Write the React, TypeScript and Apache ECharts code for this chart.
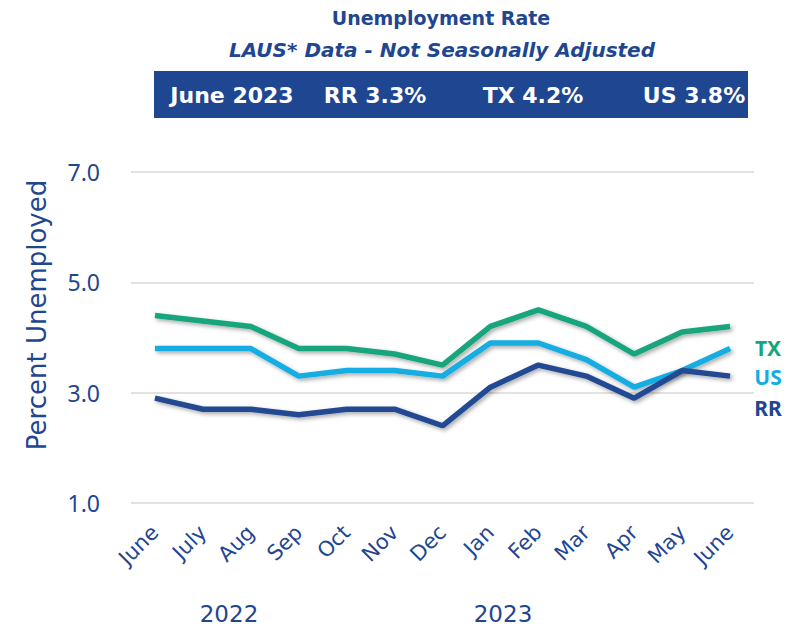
import React, { useEffect, useRef } from "react";
import * as echarts from "echarts";

const months = ["June", "July", "Aug", "Sep", "Oct", "Nov", "Dec", "Jan", "Feb", "Mar", "Apr", "May", "June"];
const txValues = [4.4, 4.3, 4.2, 3.8, 3.8, 3.7, 3.5, 4.2, 4.5, 4.2, 3.7, 4.1, 4.2];
const usValues = [3.8, 3.8, 3.8, 3.3, 3.4, 3.4, 3.3, 3.9, 3.9, 3.6, 3.1, 3.4, 3.8];
const rrValues = [2.9, 2.7, 2.7, 2.6, 2.7, 2.7, 2.4, 3.1, 3.5, 3.3, 2.9, 3.4, 3.3];
const yearLabels = ["2022", "2023"];
const bannerTexts = ["June 2023", "RR 3.3%", "TX 4.2%", "US 3.8%"];
const seriesNames = ["TX", "US", "RR"];

const NAVY = "#1F4690";
const GREEN = "#17A57C";
const CYAN = "#12AEE2";
const LINE_NAVY = "#214A92";

export default function App() {
  const ref = useRef<HTMLDivElement>(null);
  useEffect(() => {
    if (!ref.current) return;
    const chart = echarts.init(ref.current, null, { renderer: "svg" });
    const shadow = { shadowColor: "rgba(0,0,0,0.35)", shadowBlur: 4, shadowOffsetX: 2, shadowOffsetY: 2 };
    const mk = (name: string, data: number[], color: string) => ({
      name,
      type: "line",
      data,
      symbol: "none",
      lineStyle: { width: 5.5, color, ...shadow },
      itemStyle: { color },
      z: 3,
    });
    const bannerX = [232, 375, 533, 694];
    const yearX = [229, 503];
    const labelColors = [GREEN, CYAN, NAVY];
    const labelY = [348, 377, 408];
    chart.setOption({
      animation: false,
      backgroundColor: "#ffffff",
      grid: { left: 131, right: 48, top: 172, bottom: 126, containLabel: false },
      xAxis: {
        type: "category",
        data: months,
        boundaryGap: true,
        axisLine: { show: false },
        axisTick: { show: false },
        axisLabel: {
          rotate: 45,
          color: NAVY,
          fontFamily: "'DejaVu Sans', sans-serif",
          fontSize: 21,
          margin: 26,
          interval: 0,
        },
      },
      yAxis: {
        type: "value",
        min: 1,
        max: 7,
        interval: 2,
        axisLine: { show: false },
        axisTick: { show: false },
        axisLabel: {
          color: NAVY,
          fontSize: 23,
          margin: 31,
          fontFamily: "'Noto Sans', sans-serif",
          formatter: (v: number) => v.toFixed(1),
        },
        splitLine: { lineStyle: { color: "#d9d9d9", width: 1.5 } },
      },
      series: [mk(seriesNames[0], txValues, GREEN), mk(seriesNames[1], usValues, CYAN), mk(seriesNames[2], rrValues, LINE_NAVY)],
      graphic: [
        {
          type: "text",
          x: 441,
          y: 18,
          style: {
            text: "Unemployment Rate",
            fill: NAVY,
            font: "bold 19px 'DejaVu Sans', sans-serif",
            textAlign: "center",
            textVerticalAlign: "middle",
          },
        },
        {
          type: "text",
          x: 442,
          y: 50,
          style: {
            text: "LAUS* Data - Not Seasonally Adjusted",
            fill: NAVY,
            font: "italic bold 20px 'DejaVu Sans', sans-serif",
            textAlign: "center",
            textVerticalAlign: "middle",
          },
        },
        {
          type: "text",
          x: 37,
          y: 315,
          rotation: Math.PI / 2,
          style: {
            text: "Percent Unemployed",
            fill: NAVY,
            font: "26px 'DejaVu Sans', sans-serif",
            textAlign: "center",
            textVerticalAlign: "middle",
          },
        },
        {
          type: "rect",
          shape: { x: 154, y: 71, width: 594, height: 47 },
          style: { fill: NAVY },
        },
        ...bannerTexts.map((t, i) => ({
          type: "text",
          x: bannerX[i],
          y: 95,
          z: 10,
          style: {
            text: t,
            fill: "#ffffff",
            font: "bold 22px 'DejaVu Sans', sans-serif",
            textAlign: "center",
            textVerticalAlign: "middle",
          },
        })),
        ...yearLabels.map((t, i) => ({
          type: "text",
          x: yearX[i],
          y: 614,
          style: { text: t, fill: NAVY, font: "23px 'DejaVu Sans', sans-serif", textAlign: "center", textVerticalAlign: "middle" },
        })),
        ...seriesNames.map((t, i) => ({
          type: "text",
          x: 768,
          y: labelY[i],
          style: {
            text: t,
            fill: labelColors[i],
            font: "bold 21px 'Liberation Sans Narrow', 'Noto Sans', sans-serif",
            textAlign: "center",
            textVerticalAlign: "middle",
          },
        })),
      ],
    });
    return () => chart.dispose();
  }, []);
  return <div ref={ref} style={{ width: 802, height: 629, position: "absolute", left: 0, top: 0 }} />;
}
